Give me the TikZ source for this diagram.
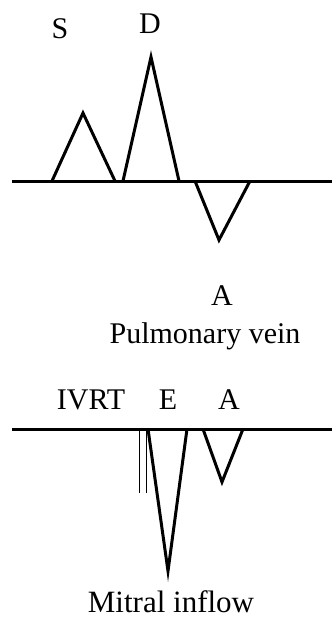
\documentclass[tikz,border=0pt]{standalone}
\usepackage{fontspec}
\setmainfont{Liberation Serif}
\begin{document}
\begin{tikzpicture}[x=1pt,y=-1pt,
  wave/.style={line width=3pt,line join=miter},
  thin/.style={line width=0.7pt},
  lbl/.style={anchor=base,inner sep=0pt,font=\fontsize{30}{36}\selectfont}]
\useasboundingbox (0,0) rectangle (332,619);
% Pulmonary vein
\coordinate (b1l) at (12,181);
\coordinate (b1r) at (332,181);
\draw[wave] (b1l) -- (b1r);
\coordinate (s0) at (52,181); \coordinate (s1) at (83,113); \coordinate (s2) at (115,181);
\draw[wave] (s0) -- (s1) -- (s2);
\coordinate (d0) at (123,181); \coordinate (d1) at (151,57); \coordinate (d2) at (179,181);
\draw[wave] (d0) -- (d1) -- (d2);
\coordinate (a0) at (195,181); \coordinate (a1) at (219,240); \coordinate (a2) at (250,181);
\draw[wave] (a0) -- (a1) -- (a2);
\node[lbl] (S) at (60,38) {S};
\node[lbl] (D) at (150,33) {D};
\node[lbl] (Apv) at (222,305) {A};
\node[lbl] (pv) at (205,343) {Pulmonary vein};
% Mitral inflow
\coordinate (b2l) at (12,429);
\coordinate (b2r) at (332,429);
\draw[wave] (b2l) -- (b2r);
\coordinate (t1a) at (139,429); \coordinate (t1b) at (139,493);
\coordinate (t2a) at (146,429); \coordinate (t2b) at (146,493);
\draw[thin] (t1a) -- (t1b);
\draw[thin] (t2a) -- (t2b);
\coordinate (e0) at (148,429); \coordinate (e1) at (168,571); \coordinate (e2) at (187,429);
\draw[wave] (e0) -- (e1) -- (e2);
\coordinate (m0) at (203,429); \coordinate (m1) at (222,482); \coordinate (m2) at (243,429);
\draw[wave] (m0) -- (m1) -- (m2);
\node[lbl] (ivrt) at (91,409) {IVRT};
\node[lbl] (E) at (168,409) {E};
\node[lbl] (Am) at (229,409) {A};
\node[lbl,font=\fontsize{31}{36}\selectfont] (mi) at (171,612) {Mitral inflow};
\end{tikzpicture}
\end{document}
